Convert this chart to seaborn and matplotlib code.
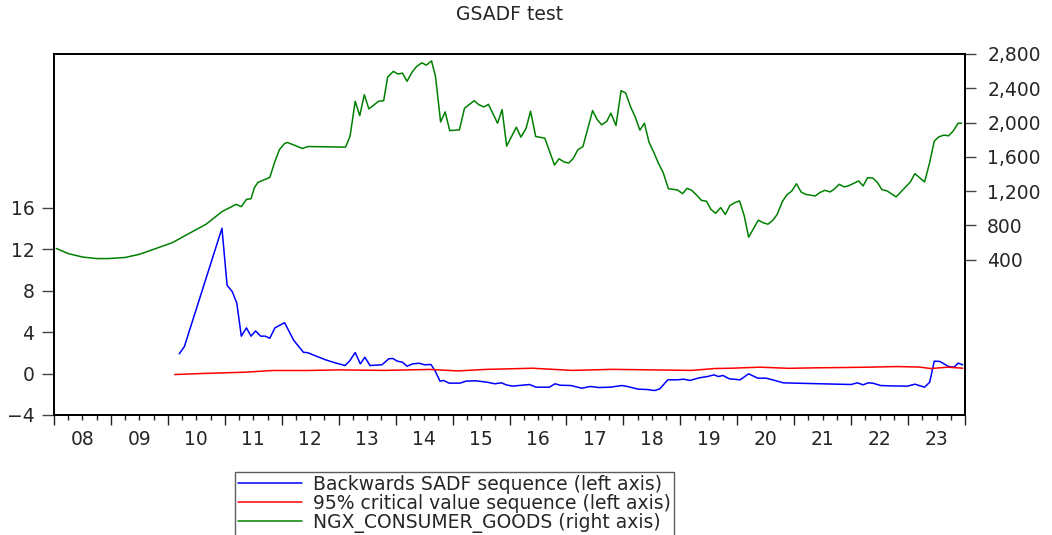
import matplotlib
matplotlib.use("Agg")
import matplotlib.pyplot as plt
import matplotlib.ticker as mticker
import seaborn as sns

# Backwards SADF sequence (left axis), decimal years
sadf_t = [2010.20, 2010.29, 2010.95, 2011.04, 2011.13, 2011.21, 2011.29, 2011.38, 2011.46, 2011.54,
          2011.63, 2011.71, 2011.79, 2011.88, 2012.05, 2012.21, 2012.38, 2012.46, 2012.62, 2012.77,
          2012.92, 2013.11, 2013.19, 2013.29, 2013.38, 2013.46, 2013.55, 2013.76, 2013.88, 2013.95,
          2014.03, 2014.12, 2014.20, 2014.30, 2014.41, 2014.51, 2014.62, 2014.69, 2014.78, 2014.84,
          2014.94, 2015.13, 2015.23, 2015.40, 2015.61, 2015.74, 2015.86, 2015.94, 2016.05, 2016.16,
          2016.35, 2016.47, 2016.70, 2016.80, 2016.89, 2017.08, 2017.27, 2017.42, 2017.57, 2017.77,
          2017.97, 2018.07, 2018.26, 2018.41, 2018.55, 2018.64, 2018.78, 2018.94, 2019.06, 2019.17,
          2019.33, 2019.48, 2019.59, 2019.67, 2019.75, 2019.86, 2020.05, 2020.20, 2020.36, 2020.51,
          2020.66, 2020.81, 2021.01, 2021.46, 2022.00, 2022.11, 2022.21, 2022.30, 2022.38, 2022.52,
          2022.68, 2022.99, 2023.12, 2023.29, 2023.38, 2023.46, 2023.56, 2023.71, 2023.81, 2023.88,
          2023.96]
sadf_v = [1.9, 2.6, 14.0, 8.5, 7.9, 6.8, 3.6, 4.4, 3.6, 4.1,
          3.6, 3.6, 3.4, 4.4, 4.9, 3.2, 2.05, 2.0, 1.64, 1.32,
          1.06, 0.77, 1.19, 2.02, 0.93, 1.57, 0.77, 0.84, 1.42, 1.45,
          1.19, 1.09, 0.70, 0.93, 0.99, 0.84, 0.87, 0.29, -0.74, -0.67,
          -0.93, -0.93, -0.74, -0.70, -0.84, -0.99, -0.90, -1.09, -1.22, -1.16,
          -1.06, -1.32, -1.32, -0.99, -1.13, -1.16, -1.42, -1.25, -1.35, -1.32,
          -1.16, -1.25, -1.51, -1.54, -1.64, -1.48, -0.61, -0.61, -0.55, -0.67,
          -0.42, -0.29, -0.13, -0.29, -0.19, -0.51, -0.61, -0.03, -0.45, -0.45,
          -0.67, -0.90, -0.93, -0.99, -1.06, -0.90, -1.09, -0.90, -0.93, -1.16,
          -1.19, -1.22, -1.03, -1.32, -0.84, 1.19, 1.16, 0.67, 0.61, 1.00,
          0.84]

# 95% critical value sequence (left axis)
cv_t = [2010.12, 2010.60, 2011.37, 2011.84, 2012.43, 2013.02, 2013.80, 2014.60, 2015.10, 2015.60,
        2016.00, 2016.40, 2017.10, 2017.80, 2018.50, 2019.20, 2019.60, 2019.90, 2020.40, 2020.90,
        2021.40, 2021.90, 2022.30, 2022.80, 2023.20, 2023.40, 2023.70, 2023.96]
cv_v = [-0.10, 0.00, 0.13, 0.29, 0.29, 0.35, 0.30, 0.39, 0.25, 0.40,
        0.45, 0.51, 0.30, 0.40, 0.35, 0.30, 0.48, 0.51, 0.61, 0.50,
        0.55, 0.58, 0.61, 0.67, 0.62, 0.48, 0.61, 0.51]

# NGX_CONSUMER_GOODS index (right axis)
ngx_t = [2008.04, 2008.25, 2008.50, 2008.75, 2008.96, 2009.25, 2009.50, 2009.75, 2010.08, 2010.33,
         2010.67, 2010.95, 2011.20, 2011.29, 2011.38, 2011.46, 2011.52, 2011.58, 2011.79, 2011.88,
         2011.96, 2012.05, 2012.10, 2012.22, 2012.36, 2012.46, 2013.12, 2013.20, 2013.29, 2013.37,
         2013.45, 2013.53, 2013.70, 2013.79, 2013.86, 2013.96, 2014.04, 2014.12, 2014.20, 2014.29,
         2014.37, 2014.46, 2014.54, 2014.63, 2014.70, 2014.79, 2014.87, 2014.95, 2015.12, 2015.21,
         2015.38, 2015.46, 2015.55, 2015.63, 2015.79, 2015.87, 2015.95, 2016.12, 2016.20, 2016.29,
         2016.37, 2016.46, 2016.62, 2016.79, 2016.87, 2016.96, 2017.04, 2017.12, 2017.20, 2017.29,
         2017.46, 2017.54, 2017.62, 2017.71, 2017.78, 2017.87, 2017.96, 2018.04, 2018.13, 2018.21,
         2018.29, 2018.37, 2018.45, 2018.54, 2018.62, 2018.70, 2018.79, 2018.95, 2019.04, 2019.12,
         2019.20, 2019.29, 2019.37, 2019.46, 2019.54, 2019.62, 2019.71, 2019.79, 2019.87, 2019.96,
         2020.04, 2020.12, 2020.20, 2020.37, 2020.46, 2020.54, 2020.62, 2020.70, 2020.79, 2020.87,
         2020.96, 2021.04, 2021.12, 2021.20, 2021.37, 2021.45, 2021.54, 2021.63, 2021.70, 2021.79,
         2021.88, 2021.96, 2022.13, 2022.21, 2022.29, 2022.38, 2022.46, 2022.54, 2022.63, 2022.79,
         2023.04, 2023.12, 2023.29, 2023.38, 2023.46, 2023.54, 2023.63, 2023.71, 2023.79, 2023.88,
         2023.94]
ngx_v = [530, 470, 430, 412, 412, 425, 462, 520, 598, 690,
         812, 960, 1045, 1018, 1103, 1110, 1240, 1300, 1360, 1545,
         1685, 1755, 1767, 1736, 1697, 1720, 1713, 1841, 2248, 2081,
         2325, 2159, 2248, 2255, 2531, 2597, 2566, 2577, 2481, 2589,
         2655, 2697, 2670, 2720, 2539, 2007, 2124, 1906, 1914, 2167,
         2255, 2209, 2182, 2213, 1992, 2151, 1725, 1946, 1830, 1930,
         2132, 1837, 1818, 1504, 1577, 1539, 1527, 1581, 1682, 1720,
         2140, 2034, 1973, 2016, 2109, 1965, 2372, 2345, 2178, 2062,
         1911, 1992, 1771, 1643, 1519, 1414, 1228, 1213, 1170, 1232,
         1209, 1150, 1092, 1081, 984, 941, 1007, 926, 1031, 1066,
         1085, 918, 662, 860, 829, 813, 856, 926, 1074, 1155,
         1202, 1286, 1190, 1162, 1143, 1182, 1209, 1190, 1221, 1279,
         1248, 1263, 1318, 1260, 1356, 1352, 1302, 1217, 1202, 1132,
         1306, 1403, 1306, 1534, 1783, 1833, 1853, 1845, 1899, 1992,
         1992]

years = list(range(2008, 2024))
left_ticks = [-4, 0, 4, 8, 12, 16]
right_ticks = [400, 800, 1200, 1600, 2000, 2400, 2800]

sns.set_theme(style="white")
plt.rcParams['font.family'] = ['DejaVu Sans']

fig = plt.figure(figsize=(10.52, 5.35), dpi=100)
ax = fig.add_axes([54 / 1052, 1 - 415 / 535, 911 / 1052, 361 / 535])
ax2 = ax.twinx()

sns.lineplot(x=sadf_t, y=sadf_v, ax=ax, color="#0000ff", linewidth=1.1,
             sort=False, estimator=None, label="Backwards SADF sequence (left axis)")
sns.lineplot(x=cv_t, y=cv_v, ax=ax, color="#ff0000", linewidth=1.1,
             sort=False, estimator=None, label="95% critical value sequence (left axis)")
sns.lineplot(x=ngx_t, y=ngx_v, ax=ax2, color="#008000", linewidth=1.1,
             sort=False, estimator=None, label="NGX_CONSUMER_GOODS (right axis)")

ax.set_xlim(2008, 2024)
ax.set_ylim(-4, 30.8)
ax2.set_ylim(-1414, 2800)

# x axis: year boundaries as major ticks, quarters as minor, labels mid-year
ax.xaxis.set_major_locator(mticker.FixedLocator(years + [2024]))
ax.xaxis.set_major_formatter(mticker.NullFormatter())
quarters = [y + q / 4 for y in years for q in range(1, 4)]
ax.xaxis.set_minor_locator(mticker.FixedLocator(quarters))
ax.xaxis.set_minor_formatter(mticker.FuncFormatter(
    lambda v, p: f"{int(v) % 100:02d}" if abs(v - int(v) - 0.5) < 1e-6 else ""))
ax.tick_params(axis="x", which="major", direction="out", length=7, width=1, color="#222222",
               bottom=True)
ax.tick_params(axis="x", which="minor", direction="out", length=3.5, width=1, color="#222222",
               bottom=True, pad=7, labelsize=13.5)

ax.set_yticks(left_ticks)
ax.tick_params(axis="y", direction="out", length=9, width=1, color="#444444", left=True,
               pad=5, labelsize=13.5)
ax2.set_yticks(right_ticks)
ax2.yaxis.set_major_formatter(mticker.FuncFormatter(lambda v, p: f"{int(v):,}"))
ax2.tick_params(axis="y", direction="out", length=8, width=1, color="#444444", right=True,
                pad=8, labelsize=13.5)

ax.set_xlabel("")
ax.set_ylabel("")
ax2.set_ylabel("")
for a in (ax, ax2):
    for s in a.spines.values():
        s.set_color("black")
        s.set_linewidth(1.3)
    a.grid(False)

fig.text(510 / 1052, 1 - 14 / 535, "GSADF test", ha="center", va="center", fontsize=13.5)

h1, l1 = ax.get_legend_handles_labels()
h2, l2 = ax2.get_legend_handles_labels()
ax.get_legend().remove()
ax2.get_legend().remove()
leg = fig.legend(h1 + h2, l1 + l2, loc="upper left", bbox_to_anchor=(235 / 1052, 1 - 472 / 535),
                 frameon=True, fancybox=False, fontsize=13.5, handlelength=3.4,
                 handletextpad=0.6, labelspacing=0.0, borderpad=0.15, borderaxespad=0)
leg.get_frame().set_edgecolor("#333333")
leg.get_frame().set_linewidth(1.0)

fig.savefig("out.png", dpi=100)
